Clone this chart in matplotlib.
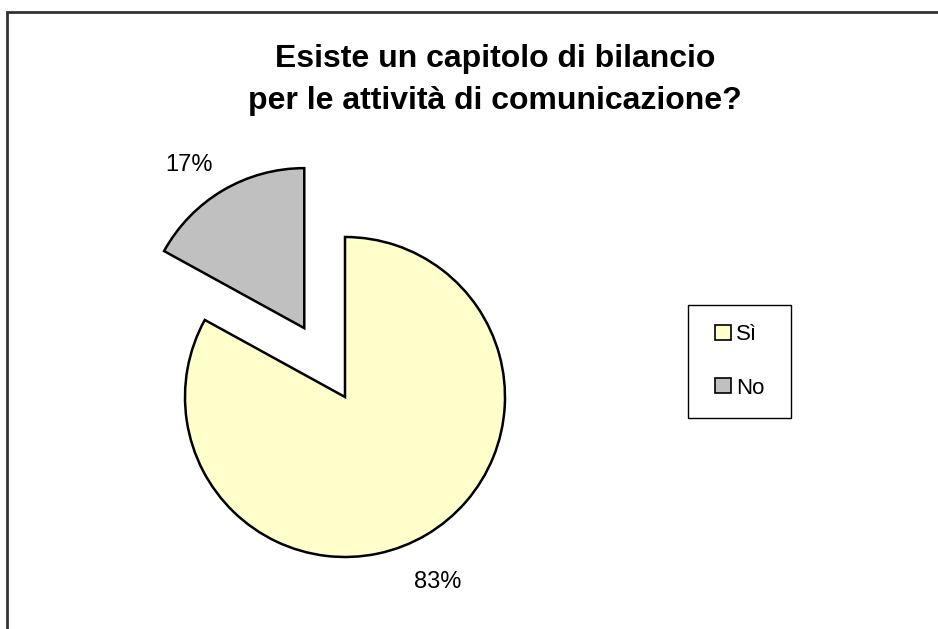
import matplotlib.pyplot as plt
from matplotlib.patches import Rectangle

# Survey answers
labels = ["Sì", "No"]
sizes = [83, 17]
colors = ["#FFFFCC", "#C0C0C0"]

plt.rcParams['font.family'] = ['Liberation Sans', 'DejaVu Sans']

W, H = 938, 629
fig = plt.figure(figsize=(W / 100, H / 100), dpi=100)

# Outer frame of the chart area
fig.patches.append(Rectangle((7 / W, -0.05), 1.1, 1 - 12 / H + 0.05,
                             transform=fig.transFigure, fill=False,
                             edgecolor="#333333", linewidth=2))

# Axes spanning the figure so that one data unit = pie radius in pixels
R = 160.0
cx, cy = 345.0, H - 397.0
ax = fig.add_axes([0, 0, 1, 1])

wedges, texts, autotexts = ax.pie(
    sizes, colors=colors, startangle=90, counterclock=False,
    explode=[0, 0.5], autopct="%1.0f%%", pctdistance=1.27,
    wedgeprops={"edgecolor": "black", "linewidth": 1.8},
    textprops={"fontsize": 17},
)

# nudge the percentage labels a little toward the left / down
for t, (dx, dy) in zip(autotexts, [(-11, -10), (-12, -12)]):
    x, y = t.get_position()
    t.set_position((x + dx / R, y + dy / R))

ax.set_xlim(-cx / R, (W - cx) / R)
ax.set_ylim(-cy / R, (H - cy) / R)
ax.set_aspect("auto")
ax.axis("off")

fig.text(0.528, 1 - 80 / H,
         "Esiste un capitolo di bilancio\nper le attività di comunicazione?",
         ha="center", va="center", fontsize=23, fontweight="bold",
         linespacing=1.5)

# legend box drawn separately, entries centred inside it
fig.patches.append(Rectangle((688 / W, 1 - 418 / H), 103 / W, 113 / H,
                             transform=fig.transFigure, fill=False,
                             edgecolor="black", linewidth=1))
leg = fig.legend(wedges, labels, loc="center",
                 bbox_to_anchor=(740 / W, 1 - 361.5 / H),
                 fontsize=16, frameon=False,
                 handlelength=0.68, handleheight=0.68, handletextpad=0.25,
                 labelspacing=1.45, borderpad=0, borderaxespad=0)
for h in leg.legend_handles:
    h.set_linewidth(1.2)

fig.savefig("out.png", dpi=100)
